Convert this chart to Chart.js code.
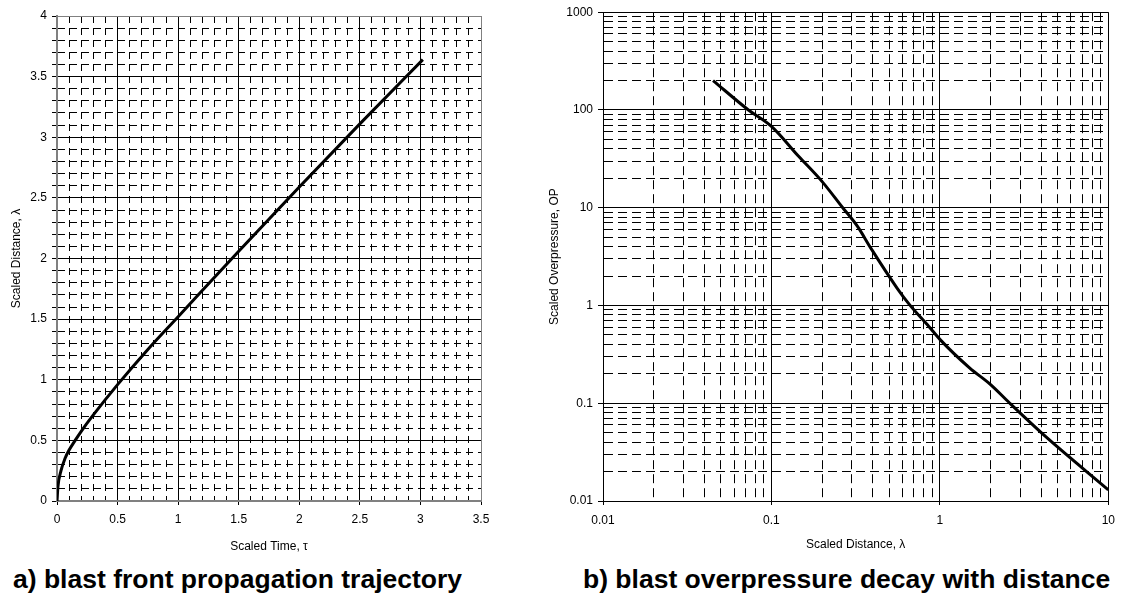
<!DOCTYPE html>
<html>
<head>
<meta charset="utf-8">
<script src="https://cdn.jsdelivr.net/npm/chart.js@4.4.1/dist/chart.umd.min.js"></script>
<style>
  html, body { margin: 0; padding: 0; background: #fff; }
  body { width: 1123px; height: 594px; position: relative; overflow: hidden;
         font-family: "Liberation Sans", Arial, sans-serif; }
  .panel { position: absolute; top: 0; }
  #panelA { left: 0; }
  #panelB { left: 540px; }
  .caption { position: absolute; top: 566px; font-weight: bold; font-size: 26.5px;
             line-height: 26.5px; white-space: nowrap; color: #000; }
  #capA { left: 13px; }
  #capB { left: 583px; }
</style>
</head>
<body>
<div class="panel" id="panelA"><canvas id="trajectory" width="500" height="560"></canvas></div>
<div class="panel" id="panelB"><canvas id="decay" width="583" height="560"></canvas></div>
<div class="caption" id="capA">a) blast front propagation trajectory</div>
<div class="caption" id="capB">b) blast overpressure decay with distance</div>
<script>
// a) blast front trajectory
const scaledTime = [0, 0.008, 0.033, 0.066, 0.1, 0.15, 0.2, 0.3, 0.5, 0.75, 1.0, 1.5, 2.0, 2.5, 3.02];
const frontDistance = [0, 0.12, 0.25, 0.35, 0.42, 0.5, 0.575, 0.71, 0.96, 1.25, 1.52, 2.06, 2.59, 3.11, 3.64];

// b) overpressure decay
const decayDistance = [0.045, 0.073, 0.1, 0.144, 0.2, 0.265, 0.325, 0.389, 0.558, 0.66, 0.86, 1.0, 1.5, 2.0, 2.6, 4.25, 10];
const overpressure = [200, 100, 68, 34, 18.5, 10, 6.4, 3.86, 1.5, 1.02, 0.61, 0.45, 0.23, 0.155, 0.1, 0.0455, 0.013];

// log grid: 1..9 within each decade
const logSteps = [1, 2, 3, 4, 5, 6, 7, 8, 9];
const xDecades = [0.01, 0.1, 1];
const xLogEnd = 10;
const yDecades = [0.01, 0.1, 1, 10, 100];
const yLogEnd = 1000;

const fontFamily = '"Liberation Sans", Arial, sans-serif';
Chart.defaults.font.family = fontFamily;
Chart.defaults.color = '#000';

const clear = 'rgba(0,0,0,0)';
const isHalf = v => Math.abs(v * 2 - Math.round(v * 2)) < 1e-6;
const isDecade = v => Math.abs(Math.log10(v) - Math.round(Math.log10(v))) < 1e-9;
const tickVal = c => (c && c.tick) ? c.tick.value : null;

const logTicks = (decades, end) =>
  decades.flatMap(d => logSteps.map(s => Number((s * d).toPrecision(6)))).concat([end]);
const xLogTicks = logTicks(xDecades, xLogEnd);
const yLogTicks = logTicks(yDecades, yLogEnd);

function points(xs, ys) {
  return xs.map((x, i) => ({ x: x, y: ys[i] }));
}

function curve(data) {
  return {
    data: data,
    borderColor: '#000',
    borderWidth: 3,
    pointRadius: 0,
    fill: false,
    cubicInterpolationMode: 'monotone'
  };
}

const baseOptions = {
  responsive: false,
  animation: false,
  plugins: { legend: { display: false }, tooltip: { enabled: false } }
};

// linear chart, minor grid every 0.1, solid lines every 0.5
function linearAxis(max, title, isX) {
  return {
    type: 'linear',
    min: 0,
    max: max,
    afterFit: s => { if (isX) s.height = 59; else s.width = 57; },
    ticks: {
      stepSize: 0.1,
      autoSkip: false,
      maxRotation: 0,
      padding: isX ? 7 : 5,
      font: { size: 12 },
      callback: v => isHalf(v) ? String(Number(v.toFixed(1))) : ''
    },
    grid: {
      color: c => {
        const v = tickVal(c);
        return v !== null && Math.abs(v - max) < 1e-6 ? '#808080' : '#000';
      },
      lineWidth: 1,
      tickLength: isX ? 4 : 5,
      tickColor: c => (isX && !isHalf(tickVal(c))) ? clear : '#000',
      tickBorderDash: []
    },
    border: {
      color: '#808080',
      width: 2,
      dash: c => {
        const v = tickVal(c);
        return v !== null && !isHalf(v) ? [7, 5] : [];
      }
    },
    title: {
      display: true,
      text: title,
      font: { size: 12 },
      padding: isX ? { top: 0, bottom: 6 } : { top: 9, bottom: 0 }
    }
  };
}

// log chart, dashed lines at 2..9, solid at decades
function logAxis(min, max, ticks, title, isX) {
  return {
    type: 'logarithmic',
    min: min,
    max: max,
    afterFit: s => { if (isX) s.height = 59; else s.width = 63; },
    afterBuildTicks: s => { s.ticks = ticks.map(v => ({ value: v })); },
    ticks: {
      autoSkip: false,
      maxRotation: 0,
      padding: isX ? 8 : 5,
      font: { size: 12 },
      callback: v => isDecade(v) ? String(v) : ''
    },
    grid: {
      color: '#000',
      lineWidth: 1,
      tickLength: isX ? 4 : 5,
      tickColor: c => tickVal(c) !== null && isDecade(tickVal(c)) ? '#000' : clear,
      tickBorderDash: []
    },
    border: {
      color: '#000',
      width: 1,
      dash: c => {
        const v = tickVal(c);
        return v !== null && !isDecade(v) ? [9, 5] : [];
      }
    },
    title: {
      display: true,
      text: title,
      font: { size: 12 },
      padding: isX ? { top: 0, bottom: 8 } : { top: 7, bottom: 0 }
    }
  };
}

new Chart(document.getElementById('trajectory'), {
  type: 'line',
  data: { datasets: [curve(points(scaledTime, frontDistance))] },
  options: Object.assign({}, baseOptions, {
    layout: { padding: { top: 16, right: 19, bottom: 0, left: 0 } },
    scales: {
      x: linearAxis(3.5, 'Scaled Time, τ', true),
      y: linearAxis(4, 'Scaled Distance, λ', false)
    }
  })
});

new Chart(document.getElementById('decay'), {
  type: 'line',
  data: { datasets: [curve(points(decayDistance, overpressure))] },
  options: Object.assign({}, baseOptions, {
    layout: { padding: { top: 12, right: 10, bottom: 0, left: 0 } },
    scales: {
      x: logAxis(0.01, 10, xLogTicks, 'Scaled Distance, λ', true),
      y: logAxis(0.01, 1000, yLogTicks, 'Scaled Overpressure, OP', false)
    }
  })
});
</script>
</body>
</html>
